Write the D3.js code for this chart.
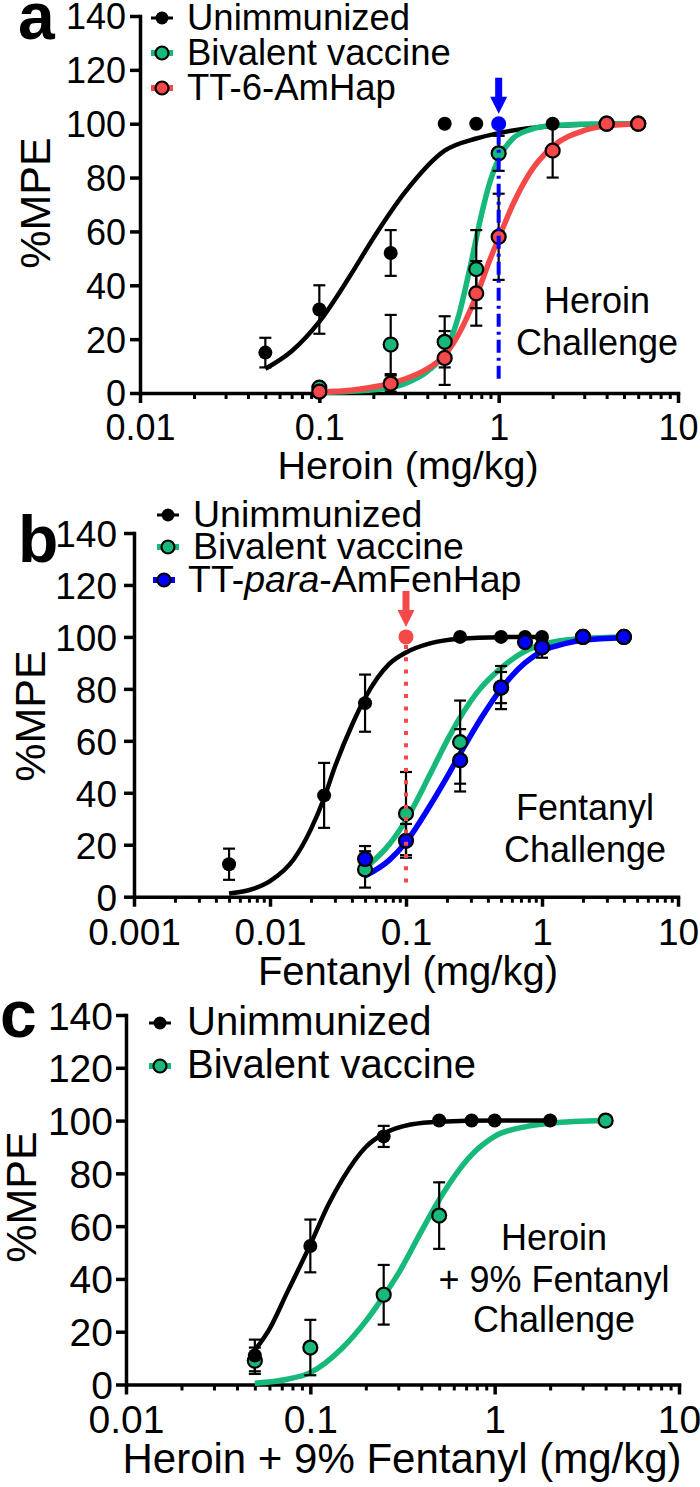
<!DOCTYPE html>
<html>
<head>
  <meta charset="utf-8">
  <title>%MPE dose-response curves: heroin, fentanyl and heroin + 9% fentanyl challenge</title>
  <style>
    body { margin: 0; background: #fff; }
  </style>
</head>
<body>
  <div id="chart"></div>
  <script src="https://cdn.jsdelivr.net/npm/d3@7"></script>
  <script>
    // ---- values ----
    const mpeTicks = [0, 20, 40, 60, 80, 100, 120, 140];
    const heroinTicks = [0.01, 0.1, 1, 10];
    const heroinTickLabels = ['0.01', '0.1', '1', '10'];
    const fentanylTicks = [0.001, 0.01, 0.1, 1, 10];
    const fentanylTickLabels = ['0.001', '0.01', '0.1', '1', '10'];

    // a: heroin challenge (mean %MPE, SEM)
    const heroinDoseUnimm = [0.05, 0.1, 0.25, 0.5, 0.75, 2];
    const heroinMpeUnimm = [15, 31, 52, 100, 100, 100];
    const heroinSemUnimm = [5.5, 9, 8.5, 0, 0, 0];
    const heroinDoseBiv = [0.1, 0.25, 0.5, 0.75, 1, 4, 6];
    const heroinMpeBiv = [2, 18, 19, 46, 89, 100, 100];
    const heroinSemBiv = [0, 11, 9.5, 14.5, 6.5, 0, 0];
    const heroinDoseAmHap = [0.1, 0.25, 0.5, 0.75, 1, 2, 4, 6];
    const heroinMpeAmHap = [0.5, 3.5, 13, 37, 58, 90, 100, 100];
    const heroinSemAmHap = [0, 3, 10, 12, 16, 10, 0, 0];

    // a: fitted curves
    const heroinFitDoseUnimm = [0.05, 0.07, 0.1, 0.15, 0.2, 0.3, 0.5, 0.75, 1, 1.5, 2, 4];
    const heroinFitUnimm = [9, 15.5, 26.5, 44, 57.5, 74.5, 90, 94.5, 96.5, 98.4, 99.1, 99.8];
    const heroinFitDoseBiv = [0.1, 0.2, 0.3, 0.4, 0.5, 0.6, 0.7, 0.8, 0.9, 1, 1.2, 1.5, 2, 4, 6];
    const heroinFitBiv = [0.2, 1.2, 3.5, 8, 15, 29, 48, 66, 79, 87, 94.5, 97.8, 99.3, 100, 100];
    const heroinFitDoseAmHap = [0.1, 0.15, 0.2, 0.25, 0.3, 0.4, 0.5, 0.6, 0.75, 0.9, 1, 1.2, 1.5, 2, 3, 4, 6];
    const heroinFitAmHap = [0.4, 1, 2.2, 3.6, 5.2, 9, 14, 22, 36, 50, 57.5, 70, 82, 91.5, 97.5, 99.2, 100];

    // b: fentanyl challenge
    const fentDoseUnimm = [0.005, 0.025, 0.05, 0.25, 0.5, 0.75, 1];
    const fentMpeUnimm = [12.5, 39, 74.5, 100, 100, 100, 100];
    const fentSemUnimm = [6, 12.5, 11, 0, 0, 0, 0];
    const fentDoseBiv = [0.05, 0.1, 0.25, 0.5, 1, 2, 4];
    const fentMpeBiv = [10.5, 32, 59.5, 80.5, 96, 100, 100];
    const fentSemBiv = [7, 16, 16, 6, 0, 0, 0];
    const fentDosePara = [0.05, 0.1, 0.25, 0.5, 0.75, 1, 2, 4];
    const fentMpePara = [14.5, 21.5, 52.5, 80.5, 98, 96, 100, 100];
    const fentSemPara = [5, 6.5, 12, 8.3, 0, 4, 0, 0];

    const fentFitDoseUnimm = [0.005, 0.0075, 0.01, 0.015, 0.02, 0.025, 0.03, 0.04, 0.05, 0.075, 0.1, 0.15, 0.25, 0.5, 1];
    const fentFitUnimm = [1.2, 3, 6, 14.5, 26, 38, 50, 66, 76.5, 89.5, 94, 97.5, 99.3, 99.9, 100];
    const fentFitDose = [0.05, 0.075, 0.1, 0.15, 0.2, 0.25, 0.35, 0.5, 0.75, 1, 1.5, 2, 4];
    const fentFitBiv = [11, 20, 29.5, 47, 60, 69, 80, 88, 94.5, 97, 98.8, 99.4, 100];
    const fentFitPara = [8, 14, 21, 35, 46, 55, 68, 80, 90, 94.5, 97.5, 98.7, 99.7];

    // c: heroin + 9% fentanyl challenge
    const mixDoseUnimm = [0.05, 0.1, 0.25, 0.5, 0.75, 1, 2];
    const mixMpeUnimm = [11, 52.5, 94, 100, 100, 100, 100];
    const mixSemUnimm = [6, 10, 4, 0, 0, 0, 0];
    const mixDoseBiv = [0.05, 0.1, 0.25, 0.5, 4];
    const mixMpeBiv = [9, 14, 34, 64, 100];
    const mixSemBiv = [5, 10.5, 11.3, 12.6, 0];

    const mixFitDoseUnimm = [0.05, 0.06, 0.075, 0.1, 0.125, 0.15, 0.2, 0.25, 0.35, 0.5, 1, 2];
    const mixFitUnimm = [13, 21, 35, 53, 68, 78, 90, 95, 98.5, 99.6, 100, 100];
    const mixFitDoseBiv = [0.05, 0.075, 0.1, 0.15, 0.2, 0.25, 0.3, 0.4, 0.5, 0.75, 1, 1.5, 2, 4];
    const mixFitBiv = [0.5, 2, 4.5, 14, 24, 33.5, 42, 58, 70, 87, 94, 97.8, 99, 100];

    // ---- styling ----
    const FONT = '"Liberation Sans", Arial, Helvetica, sans-serif';
    const BLACK = '#000000';
    const GREEN = '#17b97b';
    const RED = '#f54848';
    const BLUE = '#0000ff';

    const svg = d3.select('#chart')
      .append('svg')
      .attr('width', 700)
      .attr('height', 1487)
      .style('background', '#fff');

    const zipPts = (dose, mpe, sem) => dose.map((d, i) => ({ dose: d, mpe: mpe[i], sem: sem[i] }));
    const zipFit = (dose, mpe) => dose.map((d, i) => [d, mpe[i]]);

    function drawPanel(p) {
      const x = d3.scaleLog()
        .domain([p.xTicks[0], p.xTicks[p.xTicks.length - 1]])
        .range([p.left, p.right]);
      const y = d3.scaleLinear().domain([0, 140]).range([p.bottom, p.top]);
      const g = svg.append('g');

      // y axis
      const yAxisG = g.append('g')
        .attr('transform', `translate(${p.left},0)`)
        .call(d3.axisLeft(y).tickValues(mpeTicks).tickSize(10).tickSizeOuter(0).tickPadding(p.yPad))
        .attr('font-family', FONT)
        .attr('font-size', p.tickFont);
      yAxisG.select('.domain').attr('stroke-width', 3.5).attr('stroke-linecap', 'square');
      yAxisG.selectAll('.tick line').attr('stroke-width', 3.5);
      yAxisG.selectAll('.tick text').attr('dy', '0.36em').attr('fill', BLACK);

      // x axis, minor ticks then major ticks
      const minor = [];
      p.xTicks.slice(0, -1).forEach(t => d3.range(2, 10).forEach(k => minor.push(t * k)));
      const xMinorG = g.append('g')
        .attr('transform', `translate(0,${p.bottom})`)
        .call(d3.axisBottom(x).tickValues(minor).tickSize(6).tickFormat(''));
      xMinorG.select('.domain').remove();
      xMinorG.selectAll('line').attr('stroke-width', 3);

      const xAxisG = g.append('g')
        .attr('transform', `translate(0,${p.bottom})`)
        .call(d3.axisBottom(x).tickValues(p.xTicks).tickFormat((d, i) => p.xLabels[i]).tickSize(10).tickSizeOuter(0))
        .attr('font-family', FONT)
        .attr('font-size', p.tickFont);
      xAxisG.select('.domain').attr('stroke-width', 3.5).attr('stroke-linecap', 'square');
      xAxisG.selectAll('.tick line').attr('stroke-width', 3.5);
      xAxisG.selectAll('.tick text').attr('y', p.xLabelGap).attr('dy', 0).attr('fill', BLACK);

      // titles
      g.append('text')
        .attr('transform', `translate(${p.yTitleX},${p.yTitleY}) rotate(-90)`)
        .attr('text-anchor', 'middle')
        .attr('font-family', FONT)
        .attr('font-size', p.yTitleFont)
        .text('%MPE');

      g.append('text')
        .attr('x', p.xTitleX)
        .attr('y', p.xTitleY)
        .attr('text-anchor', 'middle')
        .attr('font-family', FONT)
        .attr('font-size', p.xTitleFont)
        .text(p.xTitle);

      g.append('text')
        .attr('x', p.letterX)
        .attr('y', p.letterY)
        .attr('font-family', FONT)
        .attr('font-weight', 'bold')
        .attr('font-size', 66)
        .text(p.letter);

      // annotation
      const note = g.append('text')
        .attr('text-anchor', 'middle')
        .attr('font-family', FONT)
        .attr('font-size', p.noteFont);
      p.note.forEach((line, i) => {
        note.append('tspan').attr('x', p.noteX).attr('y', p.noteY[i]).text(line);
      });

      // fitted curves
      const line = d3.line()
        .x(d => x(d[0]))
        .y(d => y(d[1]))
        .curve(d3.curveMonotoneX);

      p.series.forEach(s => {
        g.append('path')
          .datum(s.fit)
          .attr('fill', 'none')
          .attr('stroke', s.color)
          .attr('stroke-width', s.color === BLACK ? 4.5 : 5.5)
          .attr('d', line);
      });

      // error bars
      p.series.forEach(s => {
        const bars = g.append('g')
          .selectAll('g')
          .data(s.points.filter(d => d.sem > 0))
          .join('g')
          .attr('stroke', BLACK)
          .attr('stroke-width', 2.2);
        bars.append('line')
          .attr('x1', d => x(d.dose)).attr('x2', d => x(d.dose))
          .attr('y1', d => y(d.mpe - d.sem)).attr('y2', d => y(d.mpe + d.sem));
        bars.append('line')
          .attr('x1', d => x(d.dose) - 6).attr('x2', d => x(d.dose) + 6)
          .attr('y1', d => y(d.mpe + d.sem)).attr('y2', d => y(d.mpe + d.sem));
        bars.append('line')
          .attr('x1', d => x(d.dose) - 6).attr('x2', d => x(d.dose) + 6)
          .attr('y1', d => y(d.mpe - d.sem)).attr('y2', d => y(d.mpe - d.sem));
      });

      // points
      p.series.forEach(s => {
        g.append('g')
          .selectAll('circle')
          .data(s.points)
          .join('circle')
          .attr('cx', d => x(d.dose))
          .attr('cy', d => y(d.mpe))
          .attr('r', 7)
          .attr('fill', s.color)
          .attr('stroke', BLACK)
          .attr('stroke-width', s.color === BLACK ? 0 : 2.2);
      });

      // highlighted dose: vertical line, point and arrow
      if (p.arrow) {
        const a = p.arrow;
        const ax = x(a.dose);
        const ay = y(100);
        g.append('line')
          .attr('x1', ax).attr('x2', ax)
          .attr('y1', ay + 8).attr('y2', y(a.lineEnd))
          .attr('stroke', a.color)
          .attr('stroke-width', 4)
          .attr('stroke-dasharray', a.dash === 'dot' ? '4,8.3' : '13,5,3,5');
        g.append('circle')
          .attr('cx', ax).attr('cy', ay).attr('r', 7.5)
          .attr('fill', a.color);
        g.append('line')
          .attr('x1', ax).attr('x2', ax)
          .attr('y1', ay - 46).attr('y2', ay - 24)
          .attr('stroke', a.color)
          .attr('stroke-width', 7);
        g.append('path')
          .attr('d', `M${ax - 8.5},${ay - 27} L${ax + 8.5},${ay - 27} L${ax},${ay - 10} Z`)
          .attr('fill', a.color);
      }

      // legend
      const legend = g.append('g').attr('font-family', FONT).attr('font-size', p.legendFont);
      p.series.forEach((s, i) => {
        const cy = p.legendY[i];
        const cx = p.legendMarkX[i];
        legend.append('line')
          .attr('x1', cx - 11).attr('x2', cx + 11)
          .attr('y1', cy).attr('y2', cy)
          .attr('stroke', s.color)
          .attr('stroke-width', s.color === BLACK ? 3 : 6);
        legend.append('circle')
          .attr('cx', cx).attr('cy', cy).attr('r', 6.5)
          .attr('fill', s.color)
          .attr('stroke', BLACK)
          .attr('stroke-width', s.color === BLACK ? 0 : 2.2);
        const t = legend.append('text')
          .attr('x', p.legendTextX[i])
          .attr('y', cy + 12);
        s.label.forEach(part => {
          t.append('tspan')
            .attr('font-style', part[1] ? 'italic' : 'normal')
            .text(part[0]);
        });
      });
    }

    drawPanel({
      letter: 'a', letterX: 18, letterY: 39,
      left: 140, right: 678, top: 16, bottom: 393,
      xTicks: heroinTicks, xLabels: heroinTickLabels,
      tickFont: 36, yPad: 4, xLabelGap: 47,
      yTitleX: 50, yTitleY: 203, yTitleFont: 43,
      xTitle: 'Heroin (mg/kg)', xTitleX: 408, xTitleY: 479, xTitleFont: 39.5,
      note: ['Heroin', 'Challenge'], noteX: 597, noteY: [313, 355], noteFont: 36,
      legendY: [18, 53, 88], legendMarkX: [162, 162, 162], legendTextX: [187, 187, 187], legendFont: 36.5,
      arrow: { dose: 1, lineEnd: 4, color: BLUE, dash: 'dashdot' },
      series: [
        { label: [['Unimmunized', false]], color: BLACK,
          points: zipPts(heroinDoseUnimm, heroinMpeUnimm, heroinSemUnimm), fit: zipFit(heroinFitDoseUnimm, heroinFitUnimm) },
        { label: [['Bivalent vaccine', false]], color: GREEN,
          points: zipPts(heroinDoseBiv, heroinMpeBiv, heroinSemBiv), fit: zipFit(heroinFitDoseBiv, heroinFitBiv) },
        { label: [['TT-6-AmHap', false]], color: RED,
          points: zipPts(heroinDoseAmHap, heroinMpeAmHap, heroinSemAmHap), fit: zipFit(heroinFitDoseAmHap, heroinFitAmHap) }
      ]
    });

    drawPanel({
      letter: 'b', letterX: 18, letterY: 562,
      left: 134, right: 678, top: 533, bottom: 896.7,
      xTicks: fentanylTicks, xLabels: fentanylTickLabels,
      tickFont: 37, yPad: 7, xLabelGap: 48,
      yTitleX: 45, yTitleY: 716, yTitleFont: 43,
      xTitle: 'Fentanyl (mg/kg)', xTitleX: 408, xTitleY: 985, xTitleFont: 40,
      note: ['Fentanyl', 'Challenge'], noteX: 585, noteY: [820, 862], noteFont: 36,
      legendY: [515, 547, 580], legendMarkX: [168, 168, 164], legendTextX: [193, 193, 188], legendFont: 37.5,
      arrow: { dose: 0.1, lineEnd: 3, color: RED, dash: 'dot' },
      series: [
        { label: [['Unimmunized', false]], color: BLACK,
          points: zipPts(fentDoseUnimm, fentMpeUnimm, fentSemUnimm), fit: zipFit(fentFitDoseUnimm, fentFitUnimm) },
        { label: [['Bivalent vaccine', false]], color: GREEN,
          points: zipPts(fentDoseBiv, fentMpeBiv, fentSemBiv), fit: zipFit(fentFitDose, fentFitBiv) },
        { label: [['TT-', false], ['para', true], ['-AmFenHap', false]], color: BLUE,
          points: zipPts(fentDosePara, fentMpePara, fentSemPara), fit: zipFit(fentFitDose, fentFitPara) }
      ]
    });

    // panel c: green is drawn first so the black curve sits on top; Unimmunized is still the top legend row
    drawPanel({
      letter: 'c', letterX: 0, letterY: 1037,
      left: 126, right: 679, top: 1015, bottom: 1384.5,
      xTicks: heroinTicks, xLabels: heroinTickLabels,
      tickFont: 39, yPad: 3, xLabelGap: 48,
      yTitleX: 36, yTitleY: 1197, yTitleFont: 43,
      xTitle: 'Heroin + 9% Fentanyl (mg/kg)', xTitleX: 402, xTitleY: 1473, xTitleFont: 42,
      note: ['Heroin', '+ 9% Fentanyl', 'Challenge'], noteX: 554, noteY: [1250, 1292, 1332], noteFont: 36,
      legendY: [1066, 1023], legendMarkX: [160, 160], legendTextX: [187, 187], legendFont: 40,
      series: [
        { label: [['Bivalent vaccine', false]], color: GREEN,
          points: zipPts(mixDoseBiv, mixMpeBiv, mixSemBiv), fit: zipFit(mixFitDoseBiv, mixFitBiv) },
        { label: [['Unimmunized', false]], color: BLACK,
          points: zipPts(mixDoseUnimm, mixMpeUnimm, mixSemUnimm), fit: zipFit(mixFitDoseUnimm, mixFitUnimm) }
      ]
    });
  </script>
</body>
</html>
